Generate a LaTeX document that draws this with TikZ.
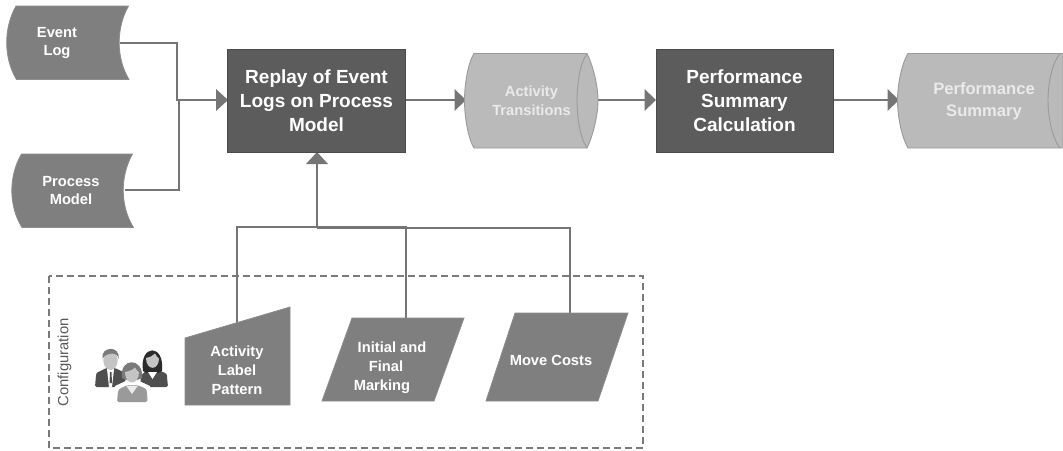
\documentclass[tikz,border=0pt]{standalone}
\usepackage{fontspec}
\setmainfont{Liberation Sans}
\begin{document}
\begin{tikzpicture}[x=1pt,y=-1pt,
 line join=miter,
 doc/.style={fill=docgray,draw=docedge,line width=0.8pt},
 store/.style={fill=storegray,draw=storeedge,line width=0.9pt},
 proc/.style={fill=procgray,draw=procedge,line width=0.9pt,minimum width=178pt,minimum height=103pt,inner sep=0pt},
 lab/.style={text=white,font=\bfseries\fontsize{14.7}{18.8}\selectfont,align=center,inner sep=0pt},
 biglab/.style={text=white,font=\bfseries\fontsize{19}{23.8}\selectfont,align=center,inner sep=0pt},
 storelab/.style={text=storetext,font=\bfseries\fontsize{14.7}{18.6}\selectfont,align=center,inner sep=0pt},
 storebig/.style={text=storetext,font=\bfseries\fontsize{16.6}{22}\selectfont,align=center,inner sep=0pt},
 conn/.style={draw=conngray,line width=2.5pt},
 tip/.style={fill=conngray,draw=none}]
\definecolor{docgray}{HTML}{7F7F7F}\definecolor{docedge}{HTML}{8C8C8C}
\definecolor{storegray}{HTML}{BABABA}\definecolor{storeedge}{HTML}{9A9A9A}
\definecolor{storetext}{HTML}{EAEAEA}
\definecolor{procgray}{HTML}{5C5C5C}\definecolor{procedge}{HTML}{4A4A4A}
\definecolor{conngray}{HTML}{757575}\definecolor{dashgray}{HTML}{7A7A7A}
\definecolor{skin}{HTML}{C4C4C4}\definecolor{suit}{HTML}{4F4F4F}\definecolor{hair}{HTML}{7A7A7A}\definecolor{hairb}{HTML}{2B2B2B}\definecolor{jacket}{HTML}{9A9A9A}
\useasboundingbox (0,0) rectangle (1063,450);
% connector ends
\coordinate (evOut) at (120,43);
\coordinate (pmOut) at (125,190);
\coordinate (joinTop) at (177,100);
\coordinate (joinBot) at (179,100);
\coordinate (busL) at (237,227);
\coordinate (busM) at (317,227);
\coordinate (busR) at (406,227);
\coordinate (busM2) at (317,228);
\coordinate (alOut) at (237,323);
\coordinate (ifOut) at (406,318);
\coordinate (mcOut) at (570,313);
\draw[conn] (evOut) -| (joinTop) -- (218,100);
\draw[conn] (pmOut) -| (joinBot);
\draw[conn] (busM) -- (317,162);
\draw[conn] (alOut) -- (busL) -- (busR) -- (ifOut);
\draw[conn] (busM2) -| (mcOut);
\draw[conn] (405,100) -- (456,100);
\draw[conn] (596,100) -- (646,100);
\draw[conn] (833,100) -- (889,100);
% arrowheads
\fill[tip] (228,100) -- (216,89) -- (216,111) -- cycle;
\fill[tip] (466,100) -- (454.5,89) -- (454.5,111) -- cycle;
\fill[tip] (656,100) -- (644.5,89) -- (644.5,111) -- cycle;
\fill[tip] (899,100) -- (887.5,89) -- (887.5,111) -- cycle;
\fill[tip] (317,152) -- (306,164) -- (328,164) -- cycle;
% documents
\path[doc] (16,6) -- (128.5,6) .. controls (116,28) and (116,58) .. (129,79.5) -- (16.5,79.5) .. controls (3.5,58) and (3.5,28) .. (16,6) -- cycle;
\node[lab] (evtext) at (57,43) {Event\\Log};
\path[doc] (21.5,154) -- (132.5,154) .. controls (120,176) and (120,206) .. (133.5,227.5) -- (22,227.5) .. controls (8.5,206) and (8.5,176) .. (21.5,154) -- cycle;
\node[lab] (pmtext) at (71,190.5) {Process\\Model};
% processes
\node[proc] (replay) at (316.5,101) {};
\node[biglab] (replaytext) at (316.5,100.5) {Replay of Event\\Logs on Process\\Model};
\node[proc,minimum width=177pt] (calc) at (744.5,101) {};
\node[biglab] (calctext) at (744.5,100.5) {Performance\\Summary\\Calculation};
% stores
\path[store] (474,53.5) -- (587,53.5) .. controls (592,63) and (598,84) .. (598,100.5) .. controls (598,117) and (592,138) .. (587,148) -- (474,148) .. controls (468,138) and (464.5,117) .. (464.5,100.5) .. controls (464.5,84) and (468,63) .. (474,53.5) -- cycle;
\path[draw=storeedge,line width=0.9pt] (587,53.5) .. controls (580,63) and (577,84) .. (577,100.5) .. controls (577,117) and (580,138) .. (587,148);
\node[storelab] (attext) at (531.5,100.5) {Activity\\Transitions};
\path[store] (908,53.5) -- (1063,53.5) -- (1063,148) -- (908,148) .. controls (902,138) and (897.5,117) .. (897.5,100.5) .. controls (897.5,84) and (902,63) .. (908,53.5) -- cycle;
\path[draw=storeedge,line width=0.9pt] (1060,53.5) .. controls (1052,63) and (1048,84) .. (1048,100.5) .. controls (1048,117) and (1052,138) .. (1060,148);
\node[storebig] (pstext) at (984,101.5) {Performance\\Summary};
% configuration frame
\draw[dashgray,line width=1.6pt,dash pattern=on 7pt off 4pt] (49,276) rectangle (643,448);
\node[rotate=90,text=black!65,font=\fontsize{14.8}{16}\selectfont,inner sep=0pt] (cfg) at (64.5,362.5) {Configuration};
% inputs
\path[doc] (185,338) -- (290,307) -- (290,405) -- (185,405) -- cycle;
\node[lab] (altext) at (237,370.5) {Activity\\Label\\Pattern};
\path[doc] (352,318) -- (464,318) -- (434,401) -- (322,401) -- cycle;
\node[lab] (iftext) at (392,367.5) {Initial and\\\hspace*{-12pt}Final\\\hspace*{-20pt}Marking};
\path[doc] (515,313) -- (628,313) -- (598,401) -- (486,401) -- cycle;
\node[lab] (mctext) at (551,360.5) {Move Costs};
% people icon
\begin{scope}
 % left man
 \fill[suit,rounded corners=1.5pt] (95,387) -- (96,375) .. controls (97,372) and (101,371) .. (106,368) -- (115,368) .. controls (121,371) and (124,372) .. (125,375) -- (126,387) -- cycle;
 \fill[white] (107,369) -- (114,369) -- (112,387) -- (109,387) -- cycle;
 \fill[suit] (110,372) -- (111.5,372) -- (112,383) -- (109.5,383) -- cycle;
 \fill[skin] (110.5,360.5) ellipse [x radius=7.2,y radius=9.5];
 \fill[hair] (102.5,359) .. controls (100,346) and (121,345) .. (118.5,359) .. controls (118,355) and (116,354) .. (112,353.5) .. controls (108,354) and (104,355) .. (102.5,359) -- cycle;
 % right woman
 \fill[suit,rounded corners=1.5pt] (140,387) -- (141,376) .. controls (143,373) and (146,371) .. (149,370) -- (157,370) .. controls (163,372) and (167,373) .. (167,377) -- (168,387) -- cycle;
 \fill[hairb] (143,371) .. controls (139,344) and (165,343) .. (162,371) -- (158,373) -- (147,373) -- cycle;
 \fill[skin] (146,358) .. controls (150,357) and (153,356) .. (155,353.5) .. controls (156,356) and (158,358) .. (159,358.5) .. controls (159,371) and (146,371) .. (146,358) -- cycle;
 \fill[white] (148,372) -- (157,372) -- (152.5,379) -- cycle;
 % front woman
 \fill[white] (114,403) -- (115,386) -- (128,380) -- (137,380) -- (150,386) -- (150,403) -- cycle;
 \fill[jacket,rounded corners=1.5pt] (117,402) -- (118,391) .. controls (120,388) and (124,387) .. (127,385) -- (137,385) .. controls (142,387) and (146,388) .. (147,392) -- (147.5,402) -- cycle;
 \fill[white!92!black] (126,385.5) -- (138,385.5) -- (132,394) -- cycle;
 \fill[hair] (122,378) .. controls (119,357) and (144,357) .. (142,378) -- (137,380) -- (127,380) -- cycle;
 \fill[skin] (125,372) .. controls (128,371.5) and (133,370) .. (135,367.5) .. controls (136,370) and (138,371.5) .. (139,372) .. controls (139,386) and (125,386) .. (125,372) -- cycle;
\end{scope}
\end{tikzpicture}
\end{document}
